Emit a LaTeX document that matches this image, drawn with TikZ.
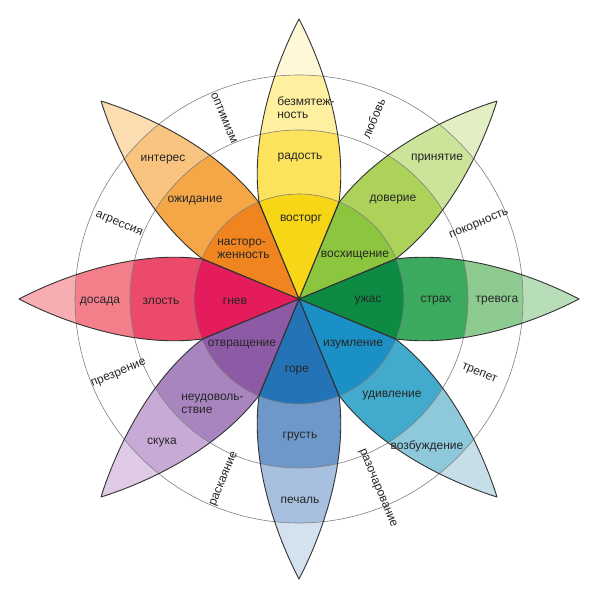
\documentclass[tikz,border=0pt]{standalone}
\usepackage{fontspec}
\setmainfont{Liberation Sans}
\definecolor{J1}{HTML}{F7D517}\definecolor{J2}{HTML}{FCE35B}\definecolor{J3}{HTML}{FEF09E}\definecolor{J4}{HTML}{FFF8D6}
\definecolor{T1}{HTML}{8CC63E}\definecolor{T2}{HTML}{ACD25A}\definecolor{T3}{HTML}{CCE49A}\definecolor{T4}{HTML}{E2EFC3}
\definecolor{F1}{HTML}{0D8A44}\definecolor{F2}{HTML}{3BAA5F}\definecolor{F3}{HTML}{8ECB91}\definecolor{F4}{HTML}{B8DEB9}
\definecolor{S1}{HTML}{1B90C6}\definecolor{S2}{HTML}{41AACD}\definecolor{S3}{HTML}{8DC8DB}\definecolor{S4}{HTML}{C6DEE8}
\definecolor{D1}{HTML}{2573B7}\definecolor{D2}{HTML}{6F98CA}\definecolor{D3}{HTML}{A8C0DF}\definecolor{D4}{HTML}{D4E2F0}
\definecolor{G1}{HTML}{8D5BA6}\definecolor{G2}{HTML}{A985BF}\definecolor{G3}{HTML}{C8AAD6}\definecolor{G4}{HTML}{E0CBE6}
\definecolor{A1}{HTML}{E41C5B}\definecolor{A2}{HTML}{EC4A6B}\definecolor{A3}{HTML}{F27F8A}\definecolor{A4}{HTML}{F8ADB2}
\definecolor{N1}{HTML}{F0851F}\definecolor{N2}{HTML}{F5A647}\definecolor{N3}{HTML}{F9C47F}\definecolor{N4}{HTML}{FCDDB2}
\tikzset{
  petalline/.style={draw=black!80, line width=0.9pt, line join=round},
  ringline/.style={draw=black!50, line width=0.6pt},
  lbl/.style={font=\fontsize{12}{13.5}\selectfont, text=black!85, inner sep=0pt, align=center},
  lbll/.style={lbl, align=left},
  ringlbl/.style={font=\fontsize{12}{13.5}\selectfont, text=black!85, inner sep=0pt}
}
\def\petalpath{(0,0) -- (-40,97) .. controls (-49,165) and (-22,238) .. (0,280) .. controls (22,238) and (49,165) .. (40,97) -- cycle}
\newcommand\drawpetal[5]{%
  \begin{scope}[shift={(C)},rotate=#1-90]
    \begin{scope}
      \clip \petalpath;
      \fill[#5] (0,0) circle (290pt);
      \fill[#4] (0,0) circle (224pt);
      \fill[#3] (0,0) circle (169pt);
      \fill[#2] (0,0) circle (105pt);
    \end{scope}
  \end{scope}}
\begin{document}
\begin{tikzpicture}[x=1pt,y=1pt]
\useasboundingbox (0,0) rectangle (600,600);
\fill[white] (0,0) rectangle (600,600);
\coordinate (C) at (299,301);
% petals
\drawpetal{90}{J1}{J2}{J3}{J4}
\drawpetal{45}{T1}{T2}{T3}{T4}
\drawpetal{0}{F1}{F2}{F3}{F4}
\drawpetal{-45}{S1}{S2}{S3}{S4}
\drawpetal{-90}{D1}{D2}{D3}{D4}
\drawpetal{-135}{G1}{G2}{G3}{G4}
\drawpetal{180}{A1}{A2}{A3}{A4}
\drawpetal{135}{N1}{N2}{N3}{N4}
% rings
\draw[ringline] (C) circle (105pt) (C) circle (169pt) (C) circle (224pt);
% outlines
\foreach \a in {0,45,...,315} {\draw[petalline,shift={(C)},rotate=\a-90] \petalpath;}
% petal labels
\node[lbll] (bezm) at (306,492.5) {безмятеж-\\ность};
\node[lbl] (radost) at (300,442) {радость};
\node[lbl] (vostorg) at (301,380) {восторг};
\node[lbll] (nastor) at (243.5,351) {насторо-\\женность};
\node[lbl] (ozhid) at (195,400) {ожидание};
\node[lbl] (interes) at (163,440) {интерес};
\node[lbl] (voskh) at (355,345) {восхищение};
\node[lbl] (dover) at (393,400) {доверие};
\node[lbl] (prin) at (437,441) {принятие};
\node[lbl] (uzhas) at (368,299) {ужас};
\node[lbl] (strakh) at (436,299) {страх};
\node[lbl] (trevoga) at (497,299) {тревога};
\node[lbl] (izuml) at (353,255) {изумление};
\node[lbl] (udiv) at (392,204) {удивление};
\node[lbl] (vozb) at (427,154) {возбуждение};
\node[lbl] (gore) at (297,229) {горе};
\node[lbl] (grust) at (300,163) {грусть};
\node[lbl] (pechal) at (300,100) {печаль};
\node[lbl] (otvr) at (242,255) {отвращение};
\node[lbll] (neud) at (212.5,196) {неудоволь-\\ствие};
\node[lbl] (skuka) at (162,157) {скука};
\node[lbl] (gnev) at (235,299) {гнев};
\node[lbl] (zlost) at (161,299) {злость};
\node[lbl] (dosada) at (100,299) {досада};
% ring labels
\node[ringlbl, rotate=67.5] (lyubov) at ([shift={(67.5:195pt)}]C) {любовь};
\node[ringlbl, rotate=-67.5] (optim) at ([shift={(112.5:196pt)}]C) {оптимизм};
\node[ringlbl, rotate=22.5] (pokorn) at ([shift={(22.5:195pt)}]C) {покорность};
\node[ringlbl, rotate=-22.5] (trepet) at ([shift={(-22.5:195pt)}]C) {трепет};
\node[ringlbl, rotate=-67.5] (razoch) at ([shift={(-67.5:205pt)}]C) {разочарование};
\node[ringlbl, rotate=67.5] (raskay) at ([shift={(-112.5:195pt)}]C) {раскаяние};
\node[ringlbl, rotate=22.5] (prezr) at ([shift={(-157.5:195pt)}]C) {презрение};
\node[ringlbl, rotate=-22.5] (agress) at ([shift={(157.5:195pt)}]C) {агрессия};
\end{tikzpicture}
\end{document}
